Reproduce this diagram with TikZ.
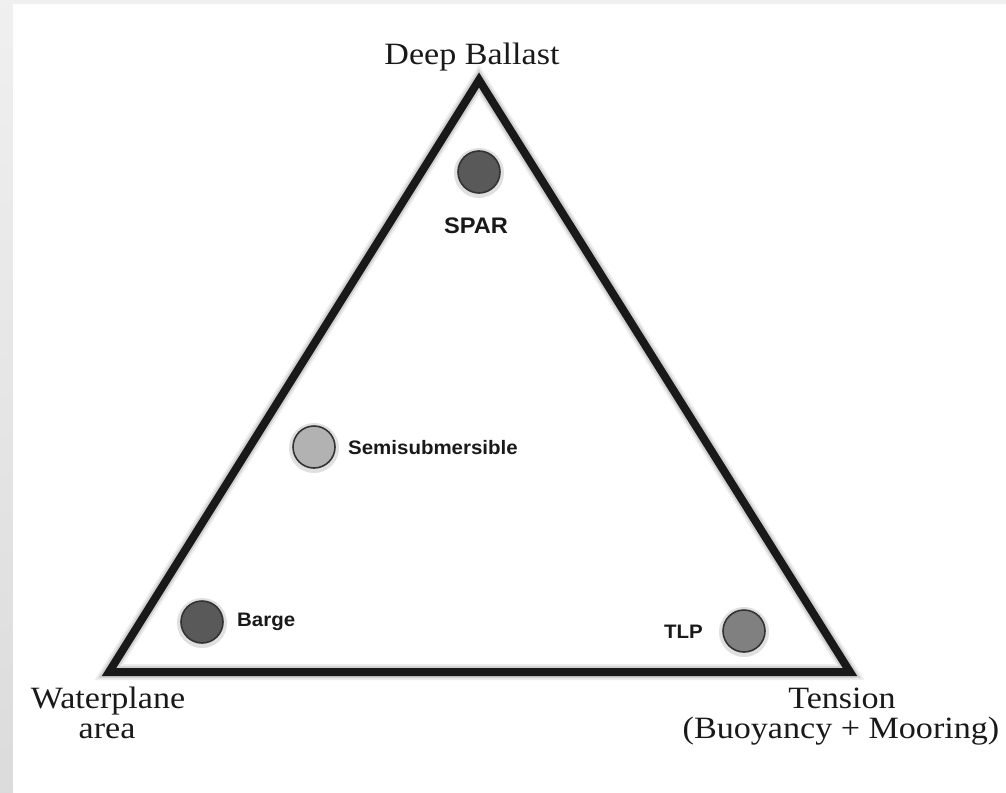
\documentclass[tikz,border=0pt]{standalone}
\usepackage{fontspec}
\setmainfont{Liberation Serif}[FakeStretch=1.1]
\newfontfamily\arialf{Liberation Sans}[FakeStretch=1.05]
\begin{document}
\begin{tikzpicture}[x=1pt,y=-1pt,
  serifl/.style={font=\fontsize{31}{30}\selectfont, align=center, inner sep=0pt, text=black!90},
  platlabel/.style={font=\arialf\bfseries\fontsize{19.5}{19.5}\selectfont, inner sep=0pt, text=black!90},
  plat/.style={circle, minimum size=42pt, inner sep=0pt, draw=black!80, line width=1.6pt},
  glow/.style={draw=black!18, line width=#1, line join=miter}
]
\useasboundingbox (0,0) rectangle (1006,792);
\fill[black!6] (0,0) rectangle (1006,792);
\shade[top color=black!6, bottom color=black!14] (0,0) rectangle (13,792);
\fill[white] (13,4) rectangle (1006,792);
% triangle
\coordinate (A) at (479,80);
\coordinate (L) at (109,672);
\coordinate (R) at (850,672);
\draw[glow=16pt, draw=black!7] (A) -- (L) -- (R) -- cycle;
\draw[glow=12pt] (A) -- (L) -- (R) -- cycle;
\draw[line width=8pt, line join=miter, draw=black!90] (A) -- (L) -- (R) -- cycle;
% platforms
\foreach \x/\y in {479/172, 314/447, 202/622, 744/631}{
  \fill[black!12] (\x,\y+1) circle (25pt);
}
\node[plat, fill=black!65] (spar) at (479,172) {};
\node[plat, fill=black!30] (semi) at (314,447) {};
\node[plat, fill=black!65] (barge) at (202,622) {};
\node[plat, fill=black!50] (tlp) at (744,631) {};
\node[platlabel, font=\arialf\bfseries\fontsize{22.5}{22.5}\selectfont] (sparl) at (476,226) {SPAR};
\node[platlabel, anchor=west] (semil) at (348,448) {Semisubmersible};
\node[platlabel, anchor=west] (bargel) at (237,622) {Barge};
\node[platlabel, anchor=east] (tlpl) at (703,632) {TLP};
% corner labels
\node[serifl, anchor=base] (deep) at (472,64) {Deep Ballast};
\node[serifl, anchor=base] (water) at (108,708) {Waterplane};
\node[serifl, anchor=base] (watera) at (107,738) {area};
\node[serifl, anchor=base] (tension) at (842,708) {Tension};
\node[serifl, anchor=base] (tensionb) at (841,738) {(Buoyancy + Mooring)};
\end{tikzpicture}
\end{document}
